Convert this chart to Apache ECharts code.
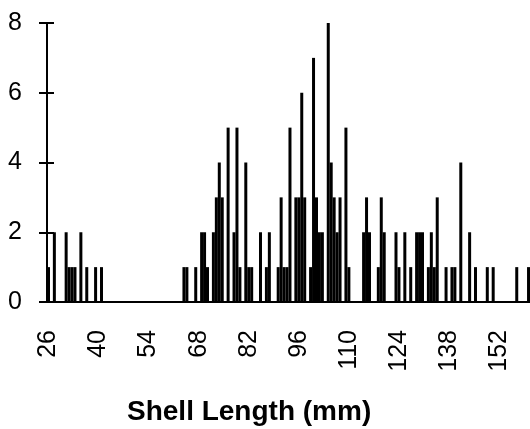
<!DOCTYPE html>
<html>
<head>
<meta charset="utf-8">
<script src="https://cdn.jsdelivr.net/npm/echarts@6/dist/echarts.min.js"></script>
<style>
  html, body { margin: 0; padding: 0; background: #fff; }
  #chart { width: 530px; height: 429px; }
</style>
</head>
<body>
<div id="chart"></div>
<script>
// shell length frequencies, one value per bin (17 bins between labels)
const counts = [
  1, 0, 2, 0, 0, 0, 2, 1, 1, 1, 0, 2, 0, 1, 0, 0, 1, 0, 1, 0,
  0, 0, 0, 0, 0, 0, 0, 0, 0, 0, 0, 0, 0, 0, 0, 0, 0, 0, 0, 0,
  0, 0, 0, 0, 0, 0, 1, 1, 0, 0, 1, 0, 2, 2, 1, 0, 2, 3, 4, 3,
  0, 5, 0, 2, 5, 1, 0, 4, 1, 1, 0, 0, 2, 0, 1, 2, 0, 0, 1, 3,
  1, 1, 5, 0, 3, 3, 6, 3, 0, 1, 7, 3, 2, 2, 0, 8, 4, 3, 2, 3,
  0, 5, 1, 0, 0, 0, 0, 2, 3, 2, 0, 0, 1, 3, 2, 0, 0, 0, 2, 1,
  0, 2, 0, 1, 0, 2, 2, 2, 0, 1, 2, 1, 3, 0, 0, 1, 0, 1, 1, 0,
  4, 0, 0, 2, 0, 1, 0, 0, 0, 1, 0, 1, 0, 0, 0, 0, 0, 0, 0, 1,
  0, 0, 0, 1
];
const tickLabels = ['26', '40', '54', '68', '82', '96', '110', '124', '138', '152'];
const binsPerLabel = 17;
const categories = counts.map((c, i) => i);

const font = 'Liberation Sans, Arial, sans-serif';

const chart = echarts.init(document.getElementById('chart'));
chart.setOption({
  backgroundColor: '#fff',
  animation: false,
  grid: { left: 47, right: 0, top: 23, bottom: 127, containLabel: false },
  xAxis: {
    type: 'category',
    data: categories,
    axisLine: { lineStyle: { color: '#000', width: 2 } },
    axisTick: { show: false },
    axisLabel: {
      interval: binsPerLabel - 1,
      rotate: 90,
      margin: 28,
      color: '#000',
      fontSize: 25,
      fontFamily: font,
      formatter: (v, i) => tickLabels[i / binsPerLabel]
    }
  },
  yAxis: [
    {
      type: 'value',
      min: 0,
      max: 8,
      interval: 2,
      axisLine: { show: true, lineStyle: { color: '#000', width: 2 } },
      axisTick: { show: true, length: 8, lineStyle: { color: '#000', width: 2 } },
      axisLabel: { color: '#000', fontSize: 25, fontFamily: font, margin: 25 },
      splitLine: { show: false }
    },
    {
      // inner half of the crossing ticks
      type: 'value',
      position: 'left',
      min: 0,
      max: 8,
      interval: 2,
      axisLine: { show: false },
      axisTick: { show: true, inside: true, length: 7, lineStyle: { color: '#000', width: 2 } },
      axisLabel: { show: false },
      splitLine: { show: false }
    }
  ],
  graphic: [{
    type: 'text',
    left: 127,
    top: 398,
    style: {
      text: 'Shell Length (mm)',
      fill: '#000',
      font: 'bold 28px ' + font
    }
  }],
  series: [{
    type: 'bar',
    data: counts,
    yAxisIndex: 0,
    barWidth: 3,
    itemStyle: { color: '#000' }
  }]
});
</script>
</body>
</html>
